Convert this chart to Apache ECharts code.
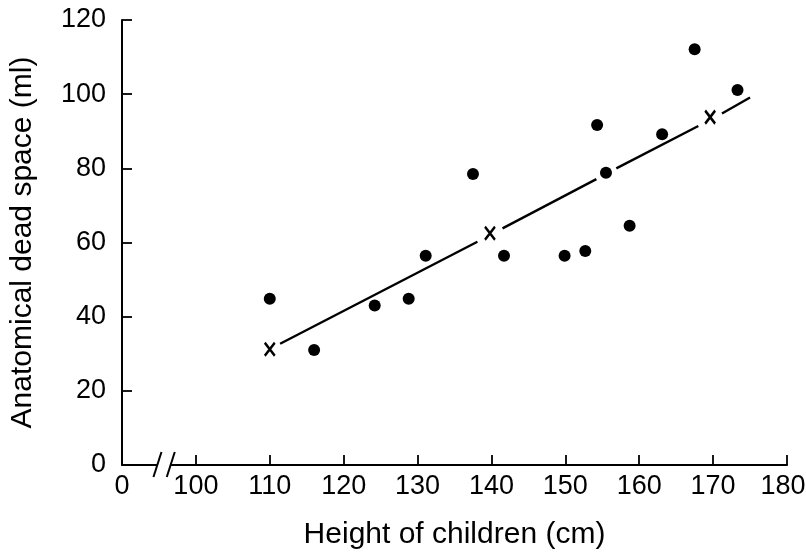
<!DOCTYPE html>
<html><head><meta charset="utf-8">
<script src="https://cdn.jsdelivr.net/npm/echarts@6/dist/echarts.min.js"></script>
<style>html,body{margin:0;padding:0;background:#fff}#c{width:806px;height:554px}</style>
</head><body><div id="c"></div>
<script>
// Observed children: height (cm), anatomical dead space (ml)
var heights = [110, 116, 124.2, 128.8, 131.1, 137.5, 141.7, 149.9, 152.7, 154.3, 155.5, 158.7, 163.1, 167.5, 173.3];
var deadSpace = [44.8, 31, 43, 44.8, 56.4, 78.5, 56.4, 56.4, 57.7, 91.7, 78.8, 64.5, 89.2, 112.1, 101.1];
// Points on the regression line marked with "x"
var crossX = [110, 139.8, 169.6];
var crossY = [31.2, 62.5, 93.8];
// Regression line segments (start/end x and y)
var lineX = [[111.4, 138.1], [141.5, 154.2], [156.9, 168.0], [171.2, 175]];
var lineY = [[32.7, 60.2], [63.8, 77.1], [80.0, 91.4], [94.8, 99.1]];
// Axis ticks
var xTickMin = 90, xTickMax = 180, xTickStep = 10;
var yTickMin = 0, yTickMax = 120, yTickStep = 20;
var xBreakLabel = '0';
var breakAt = [94.8, 96.6];

var font = 'Liberation Sans, Arial, Helvetica, sans-serif';
var ink = '#000';
var series = [];
lineX.forEach(function (seg, i) {
  series.push({
    type: 'line', data: [[seg[0], lineY[i][0]], [seg[1], lineY[i][1]]],
    symbol: 'none', lineStyle: { color: ink, width: 2.4 }, z: 2, silent: true
  });
});
series.push({
  type: 'scatter', data: heights.map(function (h, i) { return [h, deadSpace[i]]; }),
  symbol: 'circle', symbolSize: 12, itemStyle: { color: ink, opacity: 1 }, z: 3
});
series.push({
  type: 'scatter', data: crossX.map(function (h, i) { return [h, crossY[i]]; }),
  symbol: 'path://M0,0L10,12M10,0L0,12', symbolSize: [10, 13], symbolKeepAspect: false,
  itemStyle: { color: 'none', borderColor: ink, borderWidth: 2.6, opacity: 1 },
  z: 3
});

var chart = echarts.init(document.getElementById('c'), null, { renderer: 'canvas' });
chart.setOption({
  backgroundColor: '#fff',
  animation: false,
  grid: { left: 122, right: 19, top: 20, bottom: 89, containLabel: false, outerBoundsMode: 'none' },
  xAxis: {
    type: 'value', min: xTickMin, max: xTickMax, interval: xTickStep,
    name: 'Height of children (cm)', nameLocation: 'middle', nameGap: 55,
    nameTextStyle: { fontFamily: font, fontSize: 30, color: ink },
    axisLine: { lineStyle: { color: ink, width: 2 } },
    axisTick: { inside: true, length: 10, lineStyle: { color: ink, width: 1.8 } },
    axisLabel: { fontFamily: font, fontSize: 27, color: ink, margin: 8,
      formatter: function (v) {
        if (v === xTickMin) return xBreakLabel;
        if (v === xTickMax) return '{e|' + v + '}';
        return String(v);
      },
      rich: { e: { fontFamily: font, fontSize: 27, color: ink, padding: [0, 8, 0, 0] } } },
    splitLine: { show: false }
  },
  yAxis: {
    type: 'value', min: yTickMin, max: yTickMax, interval: yTickStep,
    name: 'Anatomical dead space (ml)', nameLocation: 'middle', nameGap: 84, nameRotate: 90,
    nameTextStyle: { fontFamily: font, fontSize: 30, color: ink },
    axisLine: { lineStyle: { color: ink, width: 2 } },
    axisTick: { inside: true, length: 10, lineStyle: { color: ink, width: 1.8 } },
    axisLabel: { fontFamily: font, fontSize: 27, color: ink, margin: 16 },
    splitLine: { show: false }
  },
  series: series
});

// axis break marks "//"
var b1 = chart.convertToPixel({ xAxisIndex: 0, yAxisIndex: 0 }, [breakAt[0], 0]);
var b2 = chart.convertToPixel({ xAxisIndex: 0, yAxisIndex: 0 }, [breakAt[1], 0]);
chart.setOption({
  graphic: [
    { type: 'rect', shape: { x: b1[0], y: b1[1] - 3, width: b2[0] - b1[0], height: 6 }, style: { fill: '#fff' }, z: 100 },
    { type: 'line', shape: { x1: b1[0] - 4, y1: b1[1] + 12, x2: b1[0] + 4, y2: b1[1] - 13 }, style: { stroke: ink, lineWidth: 2 }, z: 101 },
    { type: 'line', shape: { x1: b2[0] - 4, y1: b2[1] + 12, x2: b2[0] + 4, y2: b2[1] - 13 }, style: { stroke: ink, lineWidth: 2 }, z: 101 }
  ]
});
</script></body></html>
